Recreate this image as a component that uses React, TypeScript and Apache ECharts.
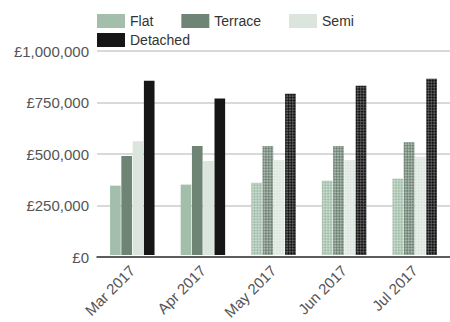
import React, { useEffect, useRef } from "react";
import * as echarts from "echarts";

const categories = ["Mar 2017", "Apr 2017", "May 2017", "Jun 2017", "Jul 2017"];
const flat = [340000, 345000, 354000, 364000, 374000];
const terrace = [485000, 534000, 534000, 534000, 553000];
const semi = [558000, 461000, 466000, 466000, 481000];
const detached = [854000, 767000, 791000, 830000, 864000];
const forecastFrom = 2;
const yTicks = [0, 250000, 500000, 750000, 1000000];

const seriesDefs = [
  { name: "Flat", values: flat, color: "#a3bfab" },
  { name: "Terrace", values: terrace, color: "#6e8474" },
  { name: "Semi", values: semi, color: "#dbe5dd" },
  { name: "Detached", values: detached, color: "#161616" },
];

export default function App() {
  const ref = useRef<HTMLDivElement>(null);
  useEffect(() => {
    if (!ref.current) return;
    const chart = echarts.init(ref.current, null, { renderer: "svg" });
    const decal = (dark: boolean) => ({
      symbol: "rect",
      symbolSize: 1,
      color: dark ? "rgba(255,255,255,0.3)" : "rgba(255,255,255,0.4)",
      dashArrayX: [[2, 2], [0, 2, 2, 0]],
      dashArrayY: [2, 0],
      rotation: Math.PI / 4,
    });
    const yBase = {
      type: "value",
      min: yTicks[0],
      max: yTicks[yTicks.length - 1],
      interval: yTicks[1] - yTicks[0],
    };
    chart.setOption({
      animation: false,
      textStyle: { fontFamily: "Liberation Sans, Arial, sans-serif" },
      legend: [
        {
          data: ["Flat", "Terrace", "Semi"],
          left: 97,
          top: 14,
          itemWidth: 28,
          itemHeight: 14,
          itemGap: 28,
          icon: "rect",
          padding: 0,
          textStyle: { fontSize: 14, color: "#333" },
        },
        {
          data: ["Detached"],
          left: 97,
          top: 33,
          itemWidth: 28,
          itemHeight: 14,
          icon: "rect",
          padding: 0,
          textStyle: { fontSize: 14, color: "#333" },
        },
      ],
      grid: [
        { left: 97, right: 0, top: 51, height: 206, containLabel: false },
        { left: 97, top: 51, width: 358, height: 206, containLabel: false },
      ],
      xAxis: [
        {
          type: "category",
          gridIndex: 0,
          data: categories,
          axisTick: { show: false },
          axisLabel: { show: false },
          axisLine: { lineStyle: { color: "#333", width: 1.5 } },
        },
        {
          type: "category",
          gridIndex: 1,
          data: categories,
          axisTick: { show: false },
          axisLine: { show: false },
          axisLabel: { rotate: 45, margin: 13, fontSize: 15, color: "#555" },
        },
      ],
      yAxis: [
        {
          ...yBase,
          gridIndex: 0,
          axisLine: { show: false },
          axisTick: { show: false },
          splitLine: { lineStyle: { color: "#ccc", width: 1.5 } },
          axisLabel: {
            fontSize: 15,
            color: "#555",
            margin: 8,
            formatter: (v: number) => "£" + v.toLocaleString("en-GB"),
          },
        },
        {
          ...yBase,
          gridIndex: 1,
          show: false,
          splitLine: { show: false },
        },
      ],
      series: seriesDefs.map((s) => ({
        name: s.name,
        type: "bar",
        xAxisIndex: 1,
        yAxisIndex: 1,
        z: 3,
        barCategoryGap: "37%",
        barGap: "6%",
        itemStyle: { color: s.color },
        data: s.values.map((v, i) =>
          i >= forecastFrom
            ? { value: v, itemStyle: { color: s.color, decal: decal(s.name === "Detached") } }
            : v
        ),
      })),
    });
    return () => chart.dispose();
  }, []);
  return (
    <div
      ref={ref}
      style={{ position: "absolute", left: 0, top: 0, width: 450, height: 322, background: "#fff" }}
    />
  );
}
